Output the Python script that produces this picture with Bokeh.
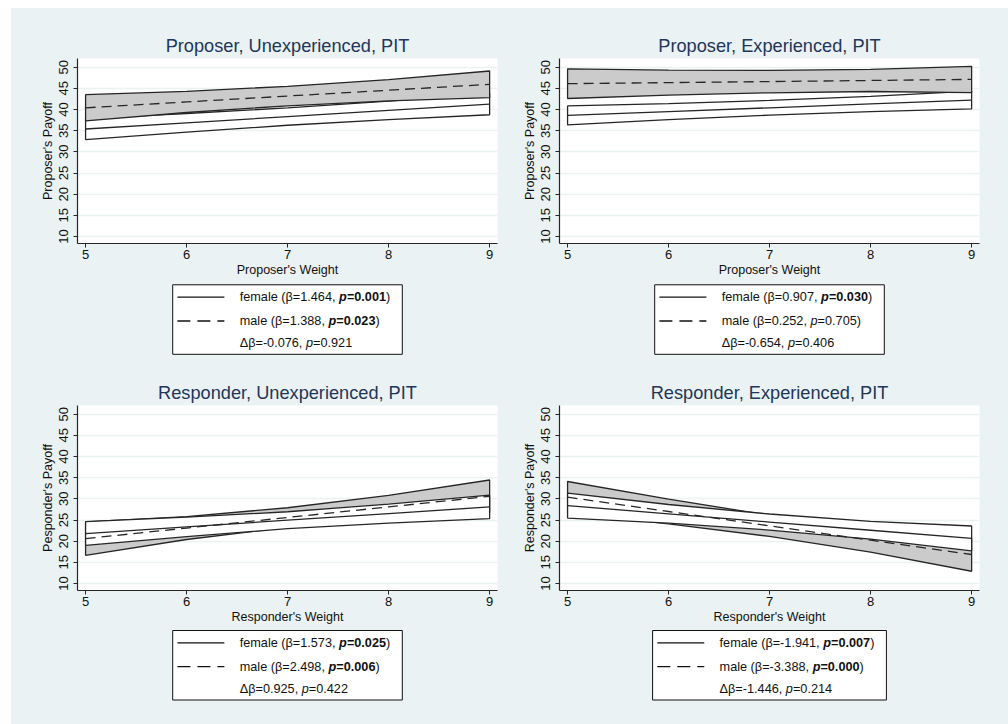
from bokeh.plotting import figure
from bokeh.models import Range1d, Spacer
from bokeh.layouts import row, column
from bokeh.embed import file_html
from bokeh.resources import INLINE
from bokeh.core.properties import value

# ---------------- data ----------------
weights = [5, 6, 7, 8, 9]
x_ticks = [5, 6, 7, 8, 9]
y_ticks = [10, 15, 20, 25, 30, 35, 40, 45, 50]

titles = ["Proposer, Unexperienced, PIT", "Proposer, Experienced, PIT",
          "Responder, Unexperienced, PIT", "Responder, Experienced, PIT"]
x_labels = ["Proposer's Weight", "Proposer's Weight",
            "Responder's Weight", "Responder's Weight"]
y_labels = ["Proposer's Payoff", "Proposer's Payoff",
            "Pesponder's Payoff", "Responder's Payoff"]

# Proposer, Unexperienced
pu_f_fit = [35.40, 36.86, 38.33, 39.79, 41.26]
pu_f_lo = [32.90, 34.66, 36.28, 37.59, 38.76]
pu_f_hi = [37.90, 39.06, 40.38, 41.99, 43.76]
pu_m_fit = [40.40, 41.79, 43.18, 44.56, 45.95]
pu_m_lo = [37.30, 39.29, 40.88, 42.06, 42.80]
pu_m_hi = [43.50, 44.29, 45.48, 47.06, 49.10]

# Proposer, Experienced
pe_f_fit = [38.60, 39.51, 40.41, 41.32, 42.23]
pe_f_lo = [36.35, 37.61, 38.66, 39.52, 40.13]
pe_f_hi = [40.85, 41.41, 42.16, 43.12, 44.33]
pe_m_fit = [46.10, 46.35, 46.60, 46.86, 47.11]
pe_m_lo = [42.60, 43.40, 43.95, 44.26, 44.01]
pe_m_hi = [49.60, 49.30, 49.25, 49.46, 50.21]

# Responder, Unexperienced
ru_f_fit = [21.80, 23.37, 24.95, 26.52, 28.09]
ru_f_lo = [19.00, 21.07, 22.95, 24.27, 25.32]
ru_f_hi = [24.60, 25.67, 26.95, 28.77, 30.86]
ru_m_fit = [20.60, 23.10, 25.60, 28.10, 30.60]
ru_m_lo = [16.65, 20.40, 23.30, 25.40, 26.75]
ru_m_hi = [24.55, 25.80, 27.90, 30.80, 34.45]

# Responder, Experienced
re_f_fit = [28.40, 26.46, 24.52, 22.58, 20.64]
re_f_lo = [25.45, 24.26, 22.62, 20.48, 17.69]
re_f_hi = [31.35, 28.66, 26.42, 24.68, 23.59]
re_m_fit = [30.40, 27.01, 23.62, 20.24, 16.85]
re_m_lo = [26.70, 24.11, 21.12, 17.39, 12.90]
re_m_hi = [34.10, 29.91, 26.12, 23.09, 20.80]

# legend statistics
female_beta = ["1.464", "0.907", "1.573", "-1.941"]
female_p = ["0.001", "0.030", "0.025", "0.007"]
female_sig = [True, True, True, True]
male_beta = ["1.388", "0.252", "2.498", "-3.388"]
male_p = ["0.023", "0.705", "0.006", "0.000"]
male_sig = [True, False, True, True]
diff_beta = ["-0.076", "-0.654", "0.925", "-1.446"]
diff_p = ["0.921", "0.406", "0.422", "0.214"]

# ---------------- style ----------------
BG = "#eaf2f3"
TITLE_C = "#233659"
FONT = "Liberation Sans"
BAND_FILL = "#cbcbcb"
LINE_C = "#262626"
LEG_FS = 12.7

panels = [
    dict(f=(pu_f_lo, pu_f_fit, pu_f_hi), m=(pu_m_lo, pu_m_fit, pu_m_hi), female_on_top=False),
    dict(f=(pe_f_lo, pe_f_fit, pe_f_hi), m=(pe_m_lo, pe_m_fit, pe_m_hi), female_on_top=False),
    dict(f=(ru_f_lo, ru_f_fit, ru_f_hi), m=(ru_m_lo, ru_m_fit, ru_m_hi), female_on_top=True),
    dict(f=(re_f_lo, re_f_fit, re_f_hi), m=(re_m_lo, re_m_fit, re_m_hi), female_on_top=True),
]

COL_W = [487, 510]
BORDER_LEFT = [66, 61]
FRAME_W, FRAME_H = 420, 185
BORDER_RIGHT = [COL_W[0] - BORDER_LEFT[0] - FRAME_W, COL_W[1] - BORDER_LEFT[1] - FRAME_W]
H_MAIN = [272, 264]
H_LEG = [82, 98]
BORDER_TOP = [50, 43]
LEG_TOP = [4.3, 4.0]


def band(p, lo, hi, fill):
    xs = list(weights) + list(weights[::-1])
    ys = list(lo) + list(hi[::-1])
    p.patch(xs, ys, fill_color=fill, line_color=LINE_C, line_width=1.3)


def main_fig(i):
    r, c = divmod(i, 2)
    w = COL_W[c]
    h = H_MAIN[r]
    p = figure(width=w, height=h, output_backend="svg", toolbar_location=None,
               x_range=Range1d(4.92, 9.078), y_range=Range1d(8.35, 52.05),
               min_border_left=BORDER_LEFT[c], min_border_right=BORDER_RIGHT[c],
               min_border_top=BORDER_TOP[r], min_border_bottom=h - BORDER_TOP[r] - FRAME_H)
    p.background_fill_color = "white"
    p.border_fill_color = BG
    p.outline_line_color = None
    p.title.text = titles[i]
    p.title.align = "center"
    p.title.text_font = FONT
    p.title.text_font_size = "18.2px"
    p.title.text_font_style = "normal"
    p.title.text_color = TITLE_C
    p.title.standoff = 5
    p.xgrid.visible = False
    p.ygrid.grid_line_color = BG
    p.ygrid.grid_line_width = 1.5
    p.xaxis.ticker = x_ticks
    p.yaxis.ticker = y_ticks
    p.xaxis.axis_label = x_labels[i]
    p.yaxis.axis_label = y_labels[i]
    for ax in (p.xaxis, p.yaxis):
        ax.axis_line_color = LINE_C
        ax.axis_line_width = 1.2
        ax.major_tick_line_color = LINE_C
        ax.major_tick_in = 0
        ax.major_tick_out = 4
        ax.minor_tick_line_color = None
        ax.major_label_text_font = FONT
        ax.major_label_text_font_size = "13px"
        ax.major_label_text_color = "#111111"
        ax.axis_label_text_font = FONT
        ax.axis_label_text_font_size = "12.5px"
        ax.axis_label_text_font_style = "normal"
        ax.axis_label_text_color = "#111111"
    p.xaxis.major_label_standoff = 2
    p.xaxis.axis_label_standoff = 1
    p.yaxis.major_label_standoff = 5
    p.yaxis.axis_label_standoff = 2
    p.yaxis.major_label_orientation = "vertical"

    pan = panels[i]
    f_lo, f_fit, f_hi = pan["f"]
    m_lo, m_fit, m_hi = pan["m"]
    if pan["female_on_top"]:
        band(p, m_lo, m_hi, BAND_FILL)
        band(p, f_lo, f_hi, "white")
    else:
        band(p, f_lo, f_hi, "white")
        band(p, m_lo, m_hi, BAND_FILL)
    p.line(weights, f_fit, line_color=LINE_C, line_width=1.3)
    p.line(weights, m_fit, line_color=LINE_C, line_width=1.3, line_dash="10 6")
    return p


REG = {' ': 278, '(': 333, ')': 333, ',': 278, '-': 333, '.': 278, '=': 584,
       'a': 556, 'e': 556, 'f': 278, 'l': 222, 'm': 833, 'p': 556,
       '\u03b2': 575, '\u0394': 668}
BOLD = dict(REG)
BOLD['p'] = 611


def text_w(s, style):
    tab = BOLD if "bold" in style else REG
    return sum(tab.get(ch, 556) for ch in s) * LEG_FS / 1000.0


def leg_rows(i):
    def stat_row(name, beta, pv, sig):
        if sig:
            return [(f"{name} (\u03b2={beta}, ", "normal"), ("p", "bold italic"),
                    (f"={pv}", "bold"), (")", "normal")]
        return [(f"{name} (\u03b2={beta}, ", "normal"), ("p", "italic"),
                (f"={pv}", "normal"), (")", "normal")]
    return [stat_row("female", female_beta[i], female_p[i], female_sig[i]),
            stat_row("male", male_beta[i], male_p[i], male_sig[i]),
            [(f"\u0394\u03b2={diff_beta[i]}, ", "normal"), ("p", "italic"),
             (f"={diff_p[i]}", "normal")]]


def legend_fig(i):
    r, c = divmod(i, 2)
    w = COL_W[c]
    h = H_LEG[r]
    # frame aligned with the panel's plot frame; x in frame pixels
    p = figure(width=w, height=h, output_backend="svg", toolbar_location=None,
               x_range=Range1d(0, FRAME_W), y_range=Range1d(h, 0),
               x_axis_type=None, y_axis_type=None,
               min_border_left=BORDER_LEFT[c], min_border_right=BORDER_RIGHT[c],
               min_border_top=0, min_border_bottom=0)
    p.background_fill_color = BG
    p.border_fill_color = BG
    p.outline_line_color = None
    rows = leg_rows(i)
    widths = [sum(text_w(s, st) for s, st in rw) for rw in rows]
    bw = 79 + max(widths)
    cx = FRAME_W / 2.0
    bx0 = cx - bw / 2.0
    by0 = LEG_TOP[r]
    bh = 69.5
    p.quad(left=[bx0], right=[bx0 + bw], top=[by0], bottom=[by0 + bh],
           fill_color="white", line_color="#111111", line_width=1)
    row_y = [by0 + 12.4, by0 + 36.2, by0 + 58.4]
    p.line([bx0 + 4.7, bx0 + 51.7], [row_y[0]] * 2, line_color="#111111", line_width=1.3)
    p.line([bx0 + 4.7, bx0 + 51.7], [row_y[1]] * 2, line_color="#111111", line_width=1.3,
           line_dash="13 7")
    for rw, yy in zip(rows, row_y):
        x = bx0 + 67
        for s, st in rw:
            p.text(x=[x], y=[yy], text=[s], text_font=value(FONT),
                   text_font_size=value(f"{LEG_FS}px"), text_font_style=st,
                   text_align="left", text_baseline="middle", text_color="#111111")
            x += text_w(s, st)
    return p


left = column(main_fig(0), legend_fig(0), main_fig(2), legend_fig(2),
              styles={"background-color": BG})
right = column(main_fig(1), legend_fig(1), main_fig(3), legend_fig(3),
               styles={"background-color": BG})
body = row(Spacer(width=11, height=716, styles={"background-color": "white"}), left, right,
           styles={"background-color": BG})
root = column(Spacer(width=1008, height=8, styles={"background-color": "white"}), body)

open("out.html", "w").write(file_html(root, INLINE))
